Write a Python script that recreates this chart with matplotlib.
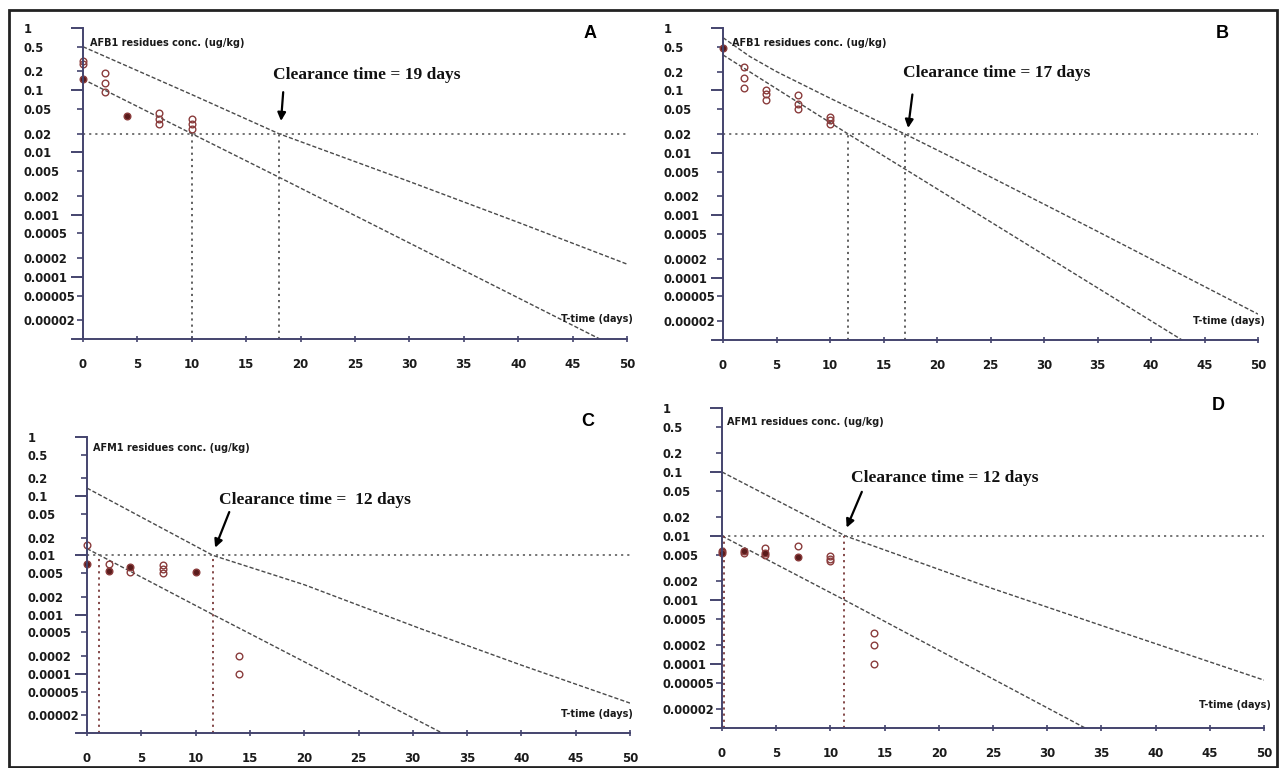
import numpy as np
import matplotlib.pyplot as plt
from matplotlib.patches import Rectangle
from matplotlib.ticker import FixedLocator, FixedFormatter

# y tick values shown on every panel
major_ticks = [1, 0.1, 0.01, 0.001, 0.0001]
major_labels = ['1', '0.1', '0.01', '0.001', '0.0001']
minor_ticks = [0.5, 0.2, 0.05, 0.02, 0.005, 0.002, 0.0005, 0.0002, 0.00005, 0.00002]
minor_labels = ['0.5', '0.2', '0.05', '0.02', '0.005', '0.002', '0.0005', '0.0002', '0.00005', '0.00002']
x_ticks = [0, 5, 10, 15, 20, 25, 30, 35, 40, 45, 50]

# Panel A - AFB1
a_days = [0, 0, 0, 2, 2, 2, 4, 7, 7, 7, 10, 10, 10]
a_conc = [0.3, 0.26, 0.15, 0.19, 0.13, 0.093, 0.038, 0.043, 0.035, 0.029, 0.034, 0.029, 0.024]
a_solid = [False, False, True, False, False, False, True, False, False, False, False, False, False]
a_upper_x = [0, 10, 18, 30, 40, 50]
a_upper_y = [0.5, 0.085, 0.02, 0.0034, 0.00075, 0.00016]
a_lower_x = [0, 10, 18, 47.5]
a_lower_y = [0.15, 0.02, 0.004, 0.00001]
a_limit = 0.02
a_cross = [10, 18]

# Panel B - AFB1
b_days = [0, 2, 2, 2, 4, 4, 4, 7, 7, 7, 10, 10, 10]
b_conc = [0.48, 0.24, 0.16, 0.11, 0.1, 0.086, 0.07, 0.083, 0.061, 0.051, 0.038, 0.034, 0.029]
b_solid = [True, False, False, False, False, False, False, False, False, False, False, False, False]
b_upper_x = [0, 2.5, 5, 10, 17, 22, 35, 50]
b_upper_y = [0.7, 0.35, 0.2, 0.075, 0.02, 0.0075, 0.00055, 0.000026]
b_lower_x = [0, 11.7, 42.9]
b_lower_y = [0.37, 0.02, 0.00001]
b_limit = 0.02
b_cross = [11.7, 17]

# Panel C - AFM1
c_days = [0, 0, 2, 2, 4, 4, 7, 7, 7, 10, 14, 14]
c_conc = [0.015, 0.0072, 0.0072, 0.0054, 0.0063, 0.0053, 0.007, 0.006, 0.005, 0.0053, 0.0002, 0.0001]
c_solid = [False, True, False, True, True, False, False, False, False, True, False, False]
c_upper_x = [0, 11.6, 20, 30.7, 40, 50]
c_upper_y = [0.137, 0.01, 0.0032, 0.00058, 0.00014, 0.000032]
c_lower_x = [0, 11.6, 32.7]
c_lower_y = [0.013, 0.001, 0.00001]
c_limit = 0.01
c_cross = [1.1, 11.6]

# Panel D - AFM1
d_days = [0, 0, 2, 2, 4, 4, 4, 7, 7, 10, 10, 10, 14, 14, 14]
d_conc = [0.0058, 0.0055, 0.0058, 0.0055, 0.0065, 0.0055, 0.005, 0.007, 0.0047,
          0.0048, 0.0044, 0.004, 0.0003, 0.0002, 0.0001]
d_solid = [True, True, True, False, False, True, False, False, True, False, False, False, False, False, False]
d_upper_x = [0, 11.4, 25, 35, 50]
d_upper_y = [0.1, 0.01, 0.0015, 0.0004, 0.000056]
d_lower_x = [0, 11.3, 33.5]
d_lower_y = [0.01, 0.001, 0.00001]
d_limit = 0.01
d_cross = [0.15, 11.3]

W, H = 1280, 768
fig = plt.figure(figsize=(W / 100, H / 100), dpi=100)
fig.patch.set_facecolor('white')

axis_col = '#44446e'
line_col = '#4a4a4a'
mark_col = '#8a3c3c'
solid_col = '#5a1c1c'


def make_axes(x0, x50, ytop, ybot):
    scale = (x50 - x0) / 50.0
    left = x0 - scale * 1.0
    return fig.add_axes([left / W, 1 - ybot / H, (x50 - left) / W, (ybot - ytop) / H])


def draw_panel(ax, days, conc, solid, ux, uy, lx, ly, limit, cross, vcol,
               ylabel, ylab_pos, clear_txt, clear_pos, arr_from, arr_to, ttime_pos):
    ax.set_yscale('log')
    ax.set_xlim(-1, 50)
    ax.set_ylim(1e-5, 1)
    for s in ['top', 'right']:
        ax.spines[s].set_visible(False)
    ax.spines['left'].set_position(('data', 0))
    for s in ['left', 'bottom']:
        ax.spines[s].set_color(axis_col)
        ax.spines[s].set_linewidth(1.4)
    ax.yaxis.set_major_locator(FixedLocator(major_ticks))
    ax.yaxis.set_major_formatter(FixedFormatter(major_labels))
    ax.yaxis.set_minor_locator(FixedLocator(minor_ticks))
    ax.yaxis.set_minor_formatter(FixedFormatter(minor_labels))
    ax.tick_params(axis='y', which='major', length=8.5, width=1.4, color=axis_col, pad=34,
                   labelsize=8.3)
    ax.tick_params(axis='y', which='minor', length=4.5, width=1.2, color=axis_col, pad=38,
                   labelsize=8.3)
    for lbl in ax.get_yticklabels(which='both'):
        lbl.set_horizontalalignment('left')
        lbl.set_fontweight('bold')
        lbl.set_color('#1a1a1a')
    ax.set_xticks(x_ticks)
    ax.set_xticklabels([str(v) for v in x_ticks], fontweight='bold', color='#1a1a1a')
    ax.tick_params(axis='x', direction='inout', length=5, width=1.2, color=axis_col,
                   pad=11, labelsize=8.5)
    ax.patch.set_alpha(0)

    # fitted tolerance lines
    ax.plot(ux, uy, color=line_col, lw=1, ls=(0, (3, 1.5)))
    ax.plot(lx, ly, color=line_col, lw=1, ls=(0, (3, 1.5)))

    # clearance limit and crossing days
    ax.plot([0, 50], [limit, limit], color='#6a6a6a', lw=1.3, ls=(0, (1.2, 2.2)))
    for cx in cross:
        ax.plot([cx, cx], [1e-5, limit], color=vcol, lw=1.3, ls=(0, (1.2, 2.2)))

    days = np.array(days)
    conc = np.array(conc)
    solid = np.array(solid)
    ax.plot(days[~solid], conc[~solid], 'o', ms=4.8, mfc='none', mec=mark_col, mew=1.0,
            clip_on=False)
    ax.plot(days[solid], conc[solid], 'o', ms=4.8, mfc=solid_col, mec=mark_col, mew=1.0,
            clip_on=False)

    ax.text(ylab_pos[0], ylab_pos[1], ylabel, fontsize=7, fontweight='bold',
            ha='left', va='center', color='#1a1a1a')
    ax.text(clear_pos[0], clear_pos[1], clear_txt, family='Liberation Serif',
            fontsize=12.5, fontweight='bold', ha='left', va='center', color='#111111')
    ax.annotate('', xy=arr_to, xytext=arr_from,
                arrowprops=dict(arrowstyle='-|>', color='black', lw=1.6,
                                mutation_scale=12, shrinkA=0, shrinkB=0))
    ax.text(ttime_pos[0], ttime_pos[1], 'T-time (days)', fontsize=7, fontweight='bold',
            ha='right', va='center', color='#1a1a1a', clip_on=False)


ax_a = make_axes(83, 627, 28, 339)
draw_panel(ax_a, a_days, a_conc, a_solid, a_upper_x, a_upper_y, a_lower_x, a_lower_y,
           a_limit, a_cross, '#555555', 'AFB1 residues conc. (ug/kg)', (0.65, 0.57),
           'Clearance time = 19 days', (17.5, 0.175), (18.4, 0.093), (18.2, 0.032),
           (50.5, 2.1e-5))

ax_b = make_axes(723, 1258, 28, 340)
draw_panel(ax_b, b_days, b_conc, b_solid, b_upper_x, b_upper_y, b_lower_x, b_lower_y,
           b_limit, b_cross, '#555555', 'AFB1 residues conc. (ug/kg)', (0.85, 0.57),
           'Clearance time = 17 days', (16.8, 0.19), (17.7, 0.086), (17.3, 0.025),
           (50.6, 2.0e-5))

ax_c = make_axes(87, 630, 437, 733)
draw_panel(ax_c, c_days, c_conc, c_solid, c_upper_x, c_upper_y, c_lower_x, c_lower_y,
           c_limit, c_cross, '#7a3a3a', 'AFM1 residues conc. (ug/kg)', (0.55, 0.65),
           'Clearance time =  12 days', (12.2, 0.085), (13.1, 0.054), (11.8, 0.0135),
           (50.3, 2.1e-5))

ax_d = make_axes(722, 1264, 408, 728)
draw_panel(ax_d, d_days, d_conc, d_solid, d_upper_x, d_upper_y, d_lower_x, d_lower_y,
           d_limit, d_cross, '#7a3a3a', 'AFM1 residues conc. (ug/kg)', (0.45, 0.6),
           'Clearance time = 12 days', (11.9, 0.081), (12.9, 0.049), (11.5, 0.0135),
           (50.6, 2.3e-5))

# panel letters
for letter, px, py in [('A', 590, 33), ('B', 1222, 33), ('C', 588, 421), ('D', 1218, 405)]:
    fig.text(px / W, 1 - py / H, letter, fontsize=13, fontweight='bold',
             family='Liberation Sans', ha='center', va='center')

# outer frame
fig.patches.append(Rectangle((9 / W, 1 - 767 / H), (1277 - 9) / W, (767 - 10) / H,
                             transform=fig.transFigure, fill=False, ec='#222222', lw=2))

fig.savefig('out.png', dpi=100)
